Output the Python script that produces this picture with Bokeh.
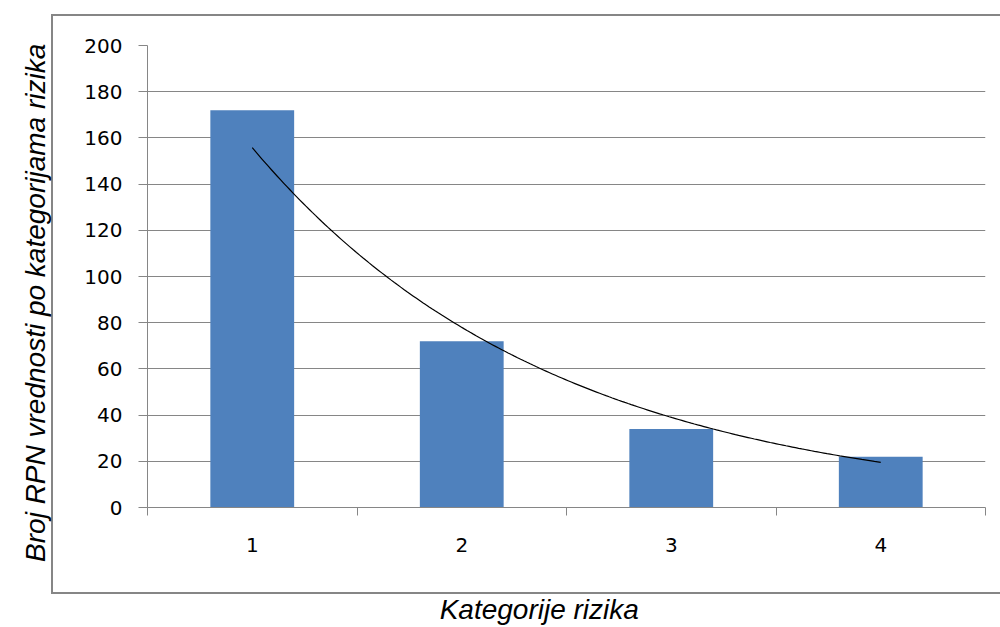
import numpy as np
from bokeh.plotting import figure
from bokeh.models import (FixedTicker, Range1d, LinearAxis, InlineStyleSheet,
                          ColumnDataSource)
from bokeh.embed import file_html
from bokeh.resources import INLINE

# ---- data ----
categories = [1, 2, 3, 4]
rpn_counts = [172, 72, 34, 22]
y_ticks = [0, 20, 40, 60, 80, 100, 120, 140, 160, 180, 200]
x_label = "Kategorije rizika"
y_label = "Broj RPN vrednosti po kategorijama rizika"

# exponential trendline (least squares fit of ln(y) on x, as in Excel)
b, a = np.polyfit(np.array(categories, float), np.log(np.array(rpn_counts, float)), 1)
trend_x = np.linspace(categories[0], categories[-1], 200)
trend_y = np.exp(a + b * trend_x)

# ---- layout constants ----
W, H = 1000, 627
FL, FT, FR, FB = 147, 45, 15, 120   # frame borders in px
X_TITLE_POS = 2.37    # anchor of the x-axis title (axis units)
Y_TITLE_POS = 144     # anchor of the y-axis title (axis units)
grid_col = "#868686"

box_css = InlineStyleSheet(css="""
:host::before {
  content: "";
  position: absolute;
  left: 51px;
  top: 14px;
  width: 949px;
  height: 576px;
  border-left: 2px solid #868686;
  border-top: 2px solid #868686;
  border-bottom: 2px solid #868686;
  border-right: none;
  pointer-events: none;
}
""")

p = figure(width=W, height=H, output_backend="svg", toolbar_location=None,
           x_range=Range1d(0.5, 4.5), y_range=Range1d(0, 200),
           min_border_left=FL, min_border_right=FR,
           min_border_top=FT, min_border_bottom=FB)
p.stylesheets = [box_css]
p.outline_line_color = None
p.background_fill_color = "white"
p.border_fill_color = None

src = ColumnDataSource(dict(x=categories, top=rpn_counts))
p.vbar(x="x", top="top", width=0.4, bottom=0, source=src,
       fill_color="#4F81BD", line_color=None)
p.line(trend_x, trend_y, line_color="black", line_width=1.2)

# x axis: labels at category centres, ticks at category boundaries
xa = p.xaxis[0]
xa.ticker = FixedTicker(ticks=categories,
                        minor_ticks=[0.5, 1.5, 2.5, 3.5, 4.5])
xa.major_tick_out = 8
xa.major_tick_in = 0
xa.major_tick_line_color = None
xa.minor_tick_out = 8
xa.minor_tick_in = 0
xa.minor_tick_line_color = grid_col
xa.axis_line_color = grid_col
xa.major_label_text_font = "DejaVu Sans"
xa.major_label_text_font_size = "20px"
xa.major_label_text_color = "black"
xa.major_label_standoff = 22

ya = p.yaxis[0]
ya.ticker = FixedTicker(ticks=y_ticks, minor_ticks=[])
ya.major_tick_out = 9
ya.major_tick_in = 0
ya.minor_tick_out = 0
ya.major_tick_line_color = grid_col
ya.axis_line_color = grid_col
ya.major_label_text_font = "DejaVu Sans"
ya.major_label_text_font_size = "20px"
ya.major_label_text_color = "black"
ya.major_label_standoff = 16

p.xgrid.grid_line_color = None
p.ygrid.grid_line_color = grid_col
p.ygrid.grid_line_width = 1

# axis titles, placed by the axes themselves
def title_axis(pos, text, standoff, orientation):
    ax = LinearAxis(ticker=FixedTicker(ticks=[pos], minor_ticks=[]),
                    major_label_overrides={pos: text},
                    axis_line_color=None, major_tick_line_color=None,
                    minor_tick_line_color=None,
                    major_tick_out=0, major_tick_in=0,
                    minor_tick_out=0, minor_tick_in=0,
                    major_label_standoff=standoff,
                    major_label_orientation=orientation,
                    major_label_text_font="Liberation Sans",
                    major_label_text_font_style="italic",
                    major_label_text_font_size="28px",
                    major_label_text_color="black")
    return ax

p.add_layout(title_axis(X_TITLE_POS, x_label, 39, "horizontal"), "below")
p.add_layout(title_axis(Y_TITLE_POS, y_label, 46, np.pi / 2), "left")

open("out.html", "w").write(file_html(p, INLINE))
